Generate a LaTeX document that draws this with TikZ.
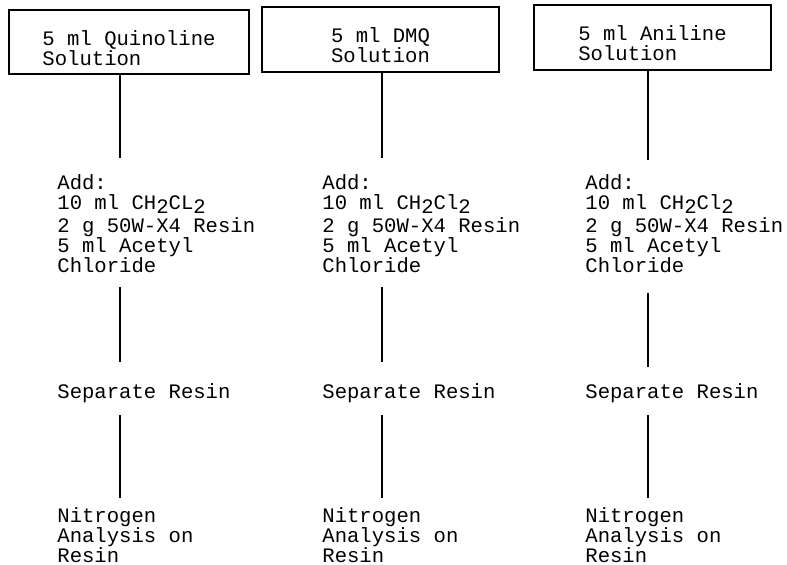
\documentclass[tikz,border=0pt]{standalone}
\usepackage{fontspec}
\setmonofont{Liberation Mono}
\usetikzlibrary{positioning}
\newcommand{\lowsub}[1]{\raisebox{-2pt}{#1}}
\tikzset{
  typed/.style={
    font=\ttfamily\fontsize{10.3}{10}\selectfont
  },
  srcBox/.style={
    typed, draw, line width=1pt,
    align=left, inner sep=0pt, text height=23.5pt
  },
  stepText/.style={
    typed, anchor=north west,
    align=left, inner sep=0pt
  },
  conn/.style={
    line width=1.1pt
  }
}

\begin{document}
\begin{tikzpicture}[x=0.5pt, y=-0.5pt]
\useasboundingbox (0,0) rectangle (787,565);

% --- starting solutions ---
\node[srcBox, minimum width=120pt, minimum height=32pt] (quin) at (129,42) {
  5 ml Quinoline\\
  Solution
};
\node[srcBox, minimum width=118.5pt, minimum height=32.5pt] (dmq) at (380.5,39.5) {
  5 ml DMQ\\
  Solution
};
\node[srcBox, minimum width=118.5pt, minimum height=32.5pt] (anil) at (652.5,37.5) {
  5 ml Aniline\\
  Solution
};

% --- treatment steps ---
\node[stepText] (addA) at (57,174) {
  Add:\\
  10 ml CH\lowsub{2}CL\lowsub{2}\\[1.5pt]
  2 g 50W-X4 Resin\\
  5 ml Acetyl\\
  Chloride
};
\node[stepText] (addB) at (322,174) {
  Add:\\
  10 ml CH\lowsub{2}Cl\lowsub{2}\\[1.5pt]
  2 g 50W-X4 Resin\\
  5 ml Acetyl\\
  Chloride
};
\node[stepText] (addC) at (585,174) {
  Add:\\
  10 ml CH\lowsub{2}Cl\lowsub{2}\\[1.5pt]
  2 g 50W-X4 Resin\\
  5 ml Acetyl\\
  Chloride
};

\node[stepText] (sepA) at (57,383) {Separate Resin};
\node[stepText] (sepB) at (322,383) {Separate Resin};
\node[stepText] (sepC) at (585,383) {Separate Resin};

\node[stepText] (nitA) at (57,507) {
  Nitrogen\\
  Analysis on\\
  Resin
};
\node[stepText] (nitB) at (322,507) {
  Nitrogen\\
  Analysis on\\
  Resin
};
\node[stepText] (nitC) at (585,507) {
  Nitrogen\\
  Analysis on\\
  Resin
};

% column lines
\coordinate (colA) at (120,0);
\coordinate (colB) at (382,0);
\coordinate (colC) at (648,0);

\draw[conn, shorten >=8pt] (quin.south -| colA) -- (addA.north -| colA);
\draw[conn, shorten <=7pt, shorten >=10.5pt] (addA.south -| colA) -- (sepA.north -| colA);
\draw[conn, shorten <=6pt, shorten >=4.5pt] (sepA.south -| colA) -- (nitA.north -| colA);

\draw[conn, shorten >=8pt] (dmq.south -| colB) -- (addB.north -| colB);
\draw[conn, shorten <=7pt, shorten >=10.5pt] (addB.south -| colB) -- (sepB.north -| colB);
\draw[conn, shorten <=6pt, shorten >=4.5pt] (sepB.south -| colB) -- (nitB.north -| colB);

\draw[conn, shorten >=7pt] (anil.south -| colC) -- (addC.north -| colC);
\draw[conn, shorten <=10pt, shorten >=8pt] (addC.south -| colC) -- (sepC.north -| colC);
\draw[conn, shorten <=6pt, shorten >=4.5pt] (sepC.south -| colC) -- (nitC.north -| colC);

\end{tikzpicture}
\end{document}
